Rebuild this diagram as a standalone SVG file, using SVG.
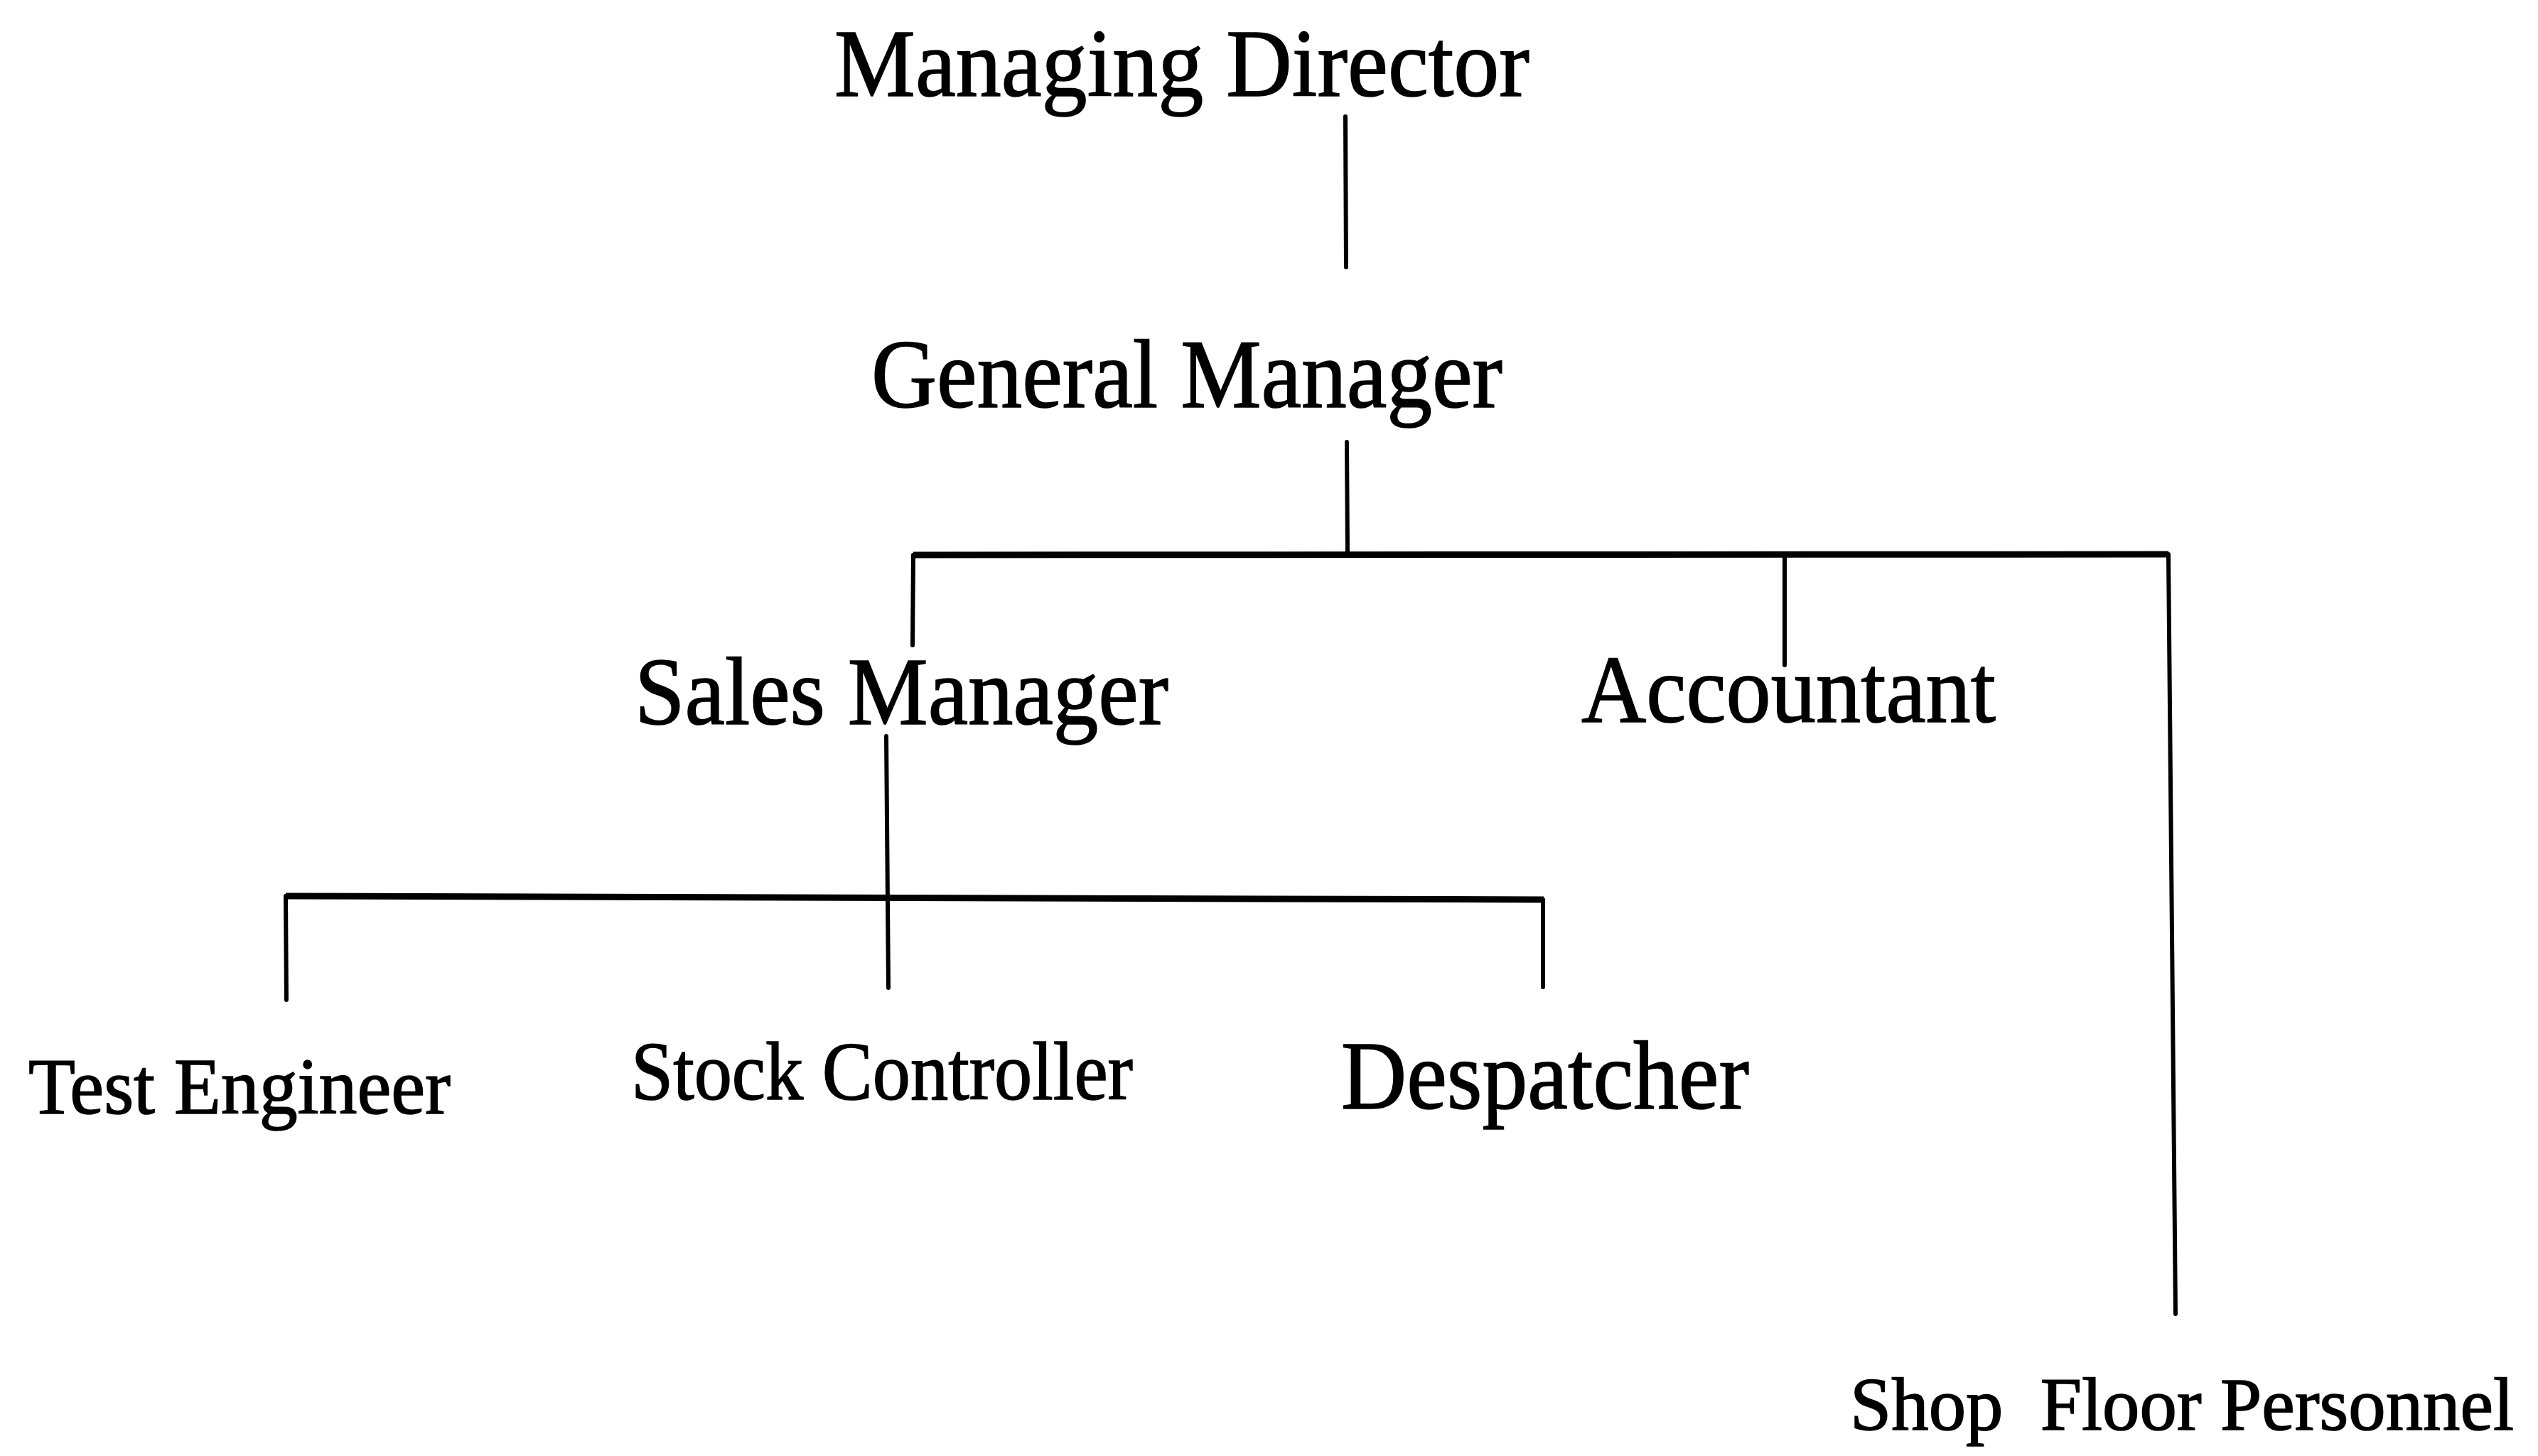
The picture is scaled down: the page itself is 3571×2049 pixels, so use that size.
<svg xmlns="http://www.w3.org/2000/svg" width="3571" height="2049" viewBox="0 0 3571 2049">
  <style>
    .lbl { font-family: "Liberation Serif", "Times New Roman", serif; fill: #000; stroke: #000; stroke-width: 1.6; }
    .stem { fill: none; stroke: #000; stroke-width: 6; stroke-linecap: round; stroke-linejoin: miter; }
    .bar { fill: none; stroke: #000; stroke-width: 9; stroke-linecap: butt; stroke-linejoin: miter; }
  </style>
  <rect width="3571" height="2049" fill="#fff"/>

  <!-- reporting lines -->
  <g id="connectors">
    <path class="stem" d="M1893 164 L1894 376"/>
    <path class="stem" d="M1895 622 L1896 781"/>
    <!-- general manager's branch: sales, accountant, shop floor -->
    <path class="bar" d="M1285 781 L3051 780"/>
    <path class="stem" d="M1285 781 L1284 908"/>
    <path class="stem" d="M2511 781 L2511 936"/>
    <path class="stem" d="M3051 780 L3061 1849"/>
    <!-- sales manager's branch -->
    <path class="stem" d="M1247 1036 L1250 1390"/>
    <path class="bar" d="M402 1261 L2172 1266"/>
    <path class="stem" d="M402 1261 L403 1407"/>
    <path class="stem" d="M2171 1266 L2171 1389"/>
  </g>

  <g id="managing-director">
    <text class="lbl" x="1174" y="135" font-size="136" textLength="978" lengthAdjust="spacingAndGlyphs">Managing Director</text>
  </g>
  <g id="general-manager">
    <text class="lbl" x="1226" y="573" font-size="138" textLength="888" lengthAdjust="spacingAndGlyphs">General Manager</text>
  </g>
  <g id="sales-manager">
    <text class="lbl" x="893" y="1019" font-size="136" textLength="751" lengthAdjust="spacingAndGlyphs">Sales Manager</text>
  </g>
  <g id="accountant">
    <text class="lbl" x="2225" y="1016" font-size="136" textLength="583" lengthAdjust="spacingAndGlyphs">Accountant</text>
  </g>
  <g id="test-engineer">
    <text class="lbl" x="40" y="1567" font-size="113" textLength="594" lengthAdjust="spacingAndGlyphs">Test Engineer</text>
  </g>
  <g id="stock-controller">
    <text class="lbl" x="888" y="1547" font-size="116" textLength="706" lengthAdjust="spacingAndGlyphs">Stock Controller</text>
  </g>
  <g id="despatcher">
    <text class="lbl" x="1887" y="1560" font-size="138" textLength="574" lengthAdjust="spacingAndGlyphs">Despatcher</text>
  </g>
  <g id="shop-floor-personnel">
    <text class="lbl" x="2603" y="2012" font-size="106" textLength="934" lengthAdjust="spacingAndGlyphs" xml:space="preserve">Shop  Floor Personnel</text>
  </g>
</svg>
